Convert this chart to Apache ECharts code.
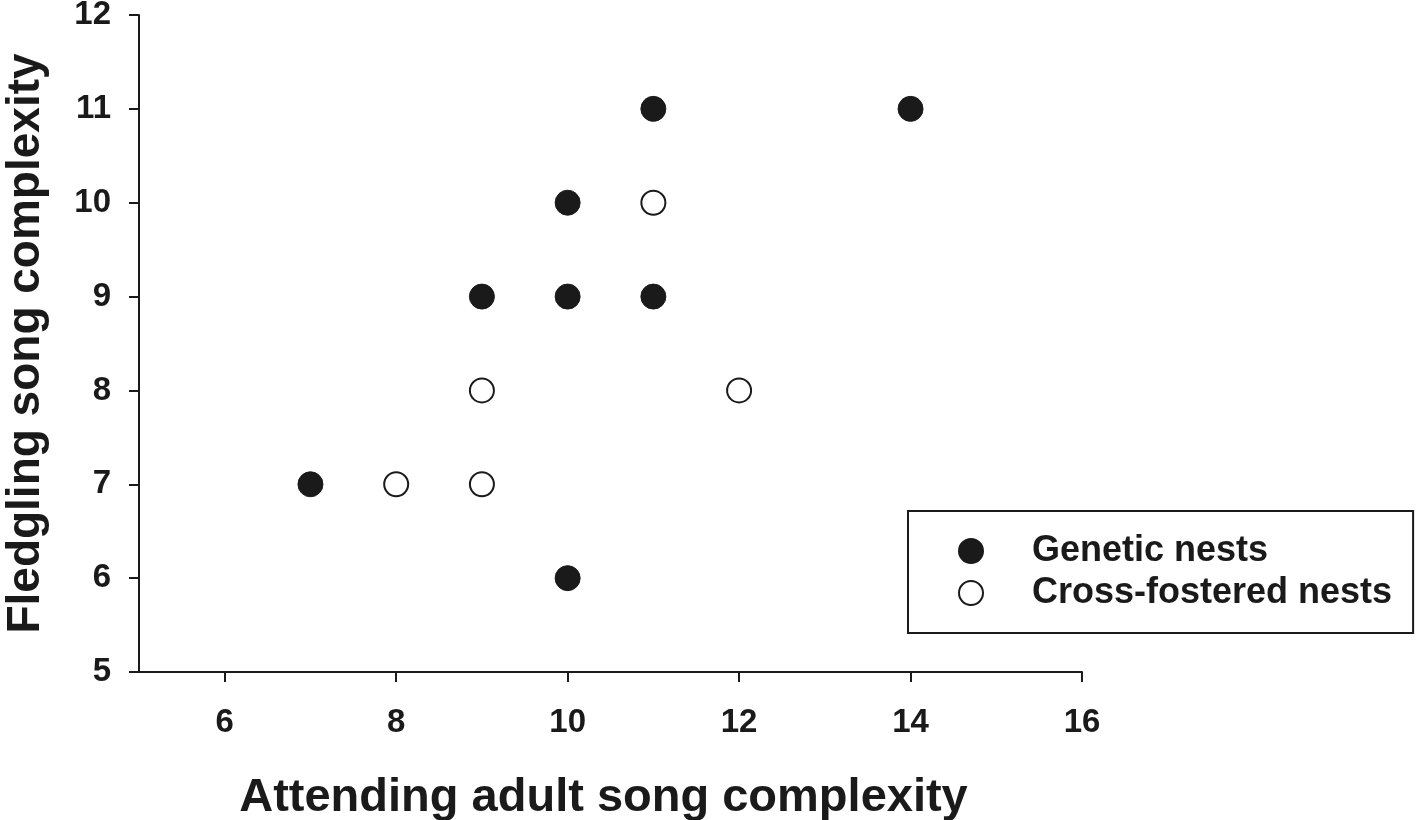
<!DOCTYPE html>
<html>
<head>
<meta charset="utf-8">
<script src="https://cdn.jsdelivr.net/npm/echarts@6/dist/echarts.min.js"></script>
<style>
  html, body { margin: 0; padding: 0; background: #fff; }
  #chart { width: 1418px; height: 820px; }
</style>
</head>
<body>
<div id="chart"></div>
<script>
// attending adult complexity (x) vs fledgling complexity (y)
const geneticX = [7, 9, 10, 10, 10, 11, 11, 14];
const geneticY = [7, 9, 10, 9, 6, 11, 9, 11];
const fosteredX = [8, 9, 9, 11, 12];
const fosteredY = [7, 8, 7, 10, 8];
const xTicks = [6, 8, 10, 12, 14, 16];
const yTicks = [5, 6, 7, 8, 9, 10, 11, 12];

const ink = '#1a1a1a';
const font = 'Liberation Sans, Arial, sans-serif';

const chart = echarts.init(document.getElementById('chart'));

const pairs = (xs, ys) => xs.map((x, i) => [x, ys[i]]);

chart.setOption({
  animation: false,
  grid: { left: 139, right: 336, top: 15, bottom: 148, outerBoundsMode: 'none', containLabel: false },
  xAxis: {
    type: 'value',
    min: 5,
    max: 16,
    splitLine: { show: false },
    axisLine: { lineStyle: { color: ink, width: 2 } },
    axisTick: { customValues: xTicks, length: 10, lineStyle: { color: ink, width: 2 } },
    axisLabel: {
      customValues: xTicks,
      margin: 34,
      color: ink,
      fontFamily: font,
      fontWeight: 'bold',
      fontSize: 33
    },
    name: 'Attending adult song complexity',
    nameLocation: 'middle',
    nameGap: 103,
    nameTextStyle: {
      color: ink, fontFamily: font, fontWeight: 'bold', fontSize: 47,
      padding: [0, 14, 0, 0]
    }
  },
  yAxis: {
    type: 'value',
    min: 5,
    max: 12,
    interval: 1,
    splitLine: { show: false },
    axisLine: { lineStyle: { color: ink, width: 2 } },
    axisTick: { customValues: yTicks, length: 10, lineStyle: { color: ink, width: 2 } },
    axisLabel: {
      customValues: yTicks,
      margin: 28,
      color: ink,
      fontFamily: font,
      fontWeight: 'bold',
      fontSize: 33
    },
    name: 'Fledgling song complexity',
    nameLocation: 'middle',
    nameGap: 90,
    nameTextStyle: { color: ink, fontFamily: font, fontWeight: 'bold', fontSize: 46 }
  },
  legend: {
    orient: 'vertical',
    left: 908,
    top: 511,
    padding: [22, 21, 22, 50],
    borderColor: ink,
    borderWidth: 2,
    itemWidth: 24,
    itemHeight: 24,
    itemGap: 6,
    textStyle: {
      color: ink, fontFamily: font, fontWeight: 'bold', fontSize: 36, lineHeight: 36,
      padding: [0, 0, 0, 44]
    },
    data: ['Genetic nests', 'Cross-fostered nests']
  },
  series: [
    {
      name: 'Genetic nests',
      type: 'scatter',
      symbol: 'circle',
      symbolSize: 25,
      itemStyle: { color: ink, borderColor: ink, borderWidth: 1, opacity: 1 },
      data: pairs(geneticX, geneticY)
    },
    {
      name: 'Cross-fostered nests',
      type: 'scatter',
      symbol: 'circle',
      symbolSize: 24,
      itemStyle: { color: '#fff', borderColor: ink, borderWidth: 2, opacity: 1 },
      data: pairs(fosteredX, fosteredY)
    }
  ]
});
</script>
</body>
</html>
